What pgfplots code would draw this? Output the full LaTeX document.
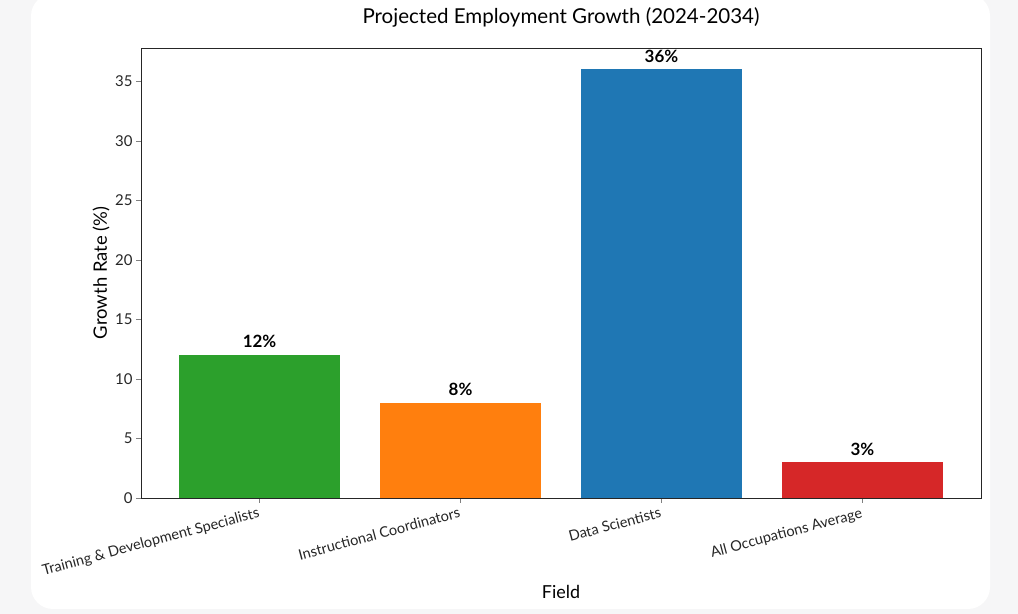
\documentclass[border=0pt]{standalone}
\usepackage{fontspec}
\setmainfont{Lato}
\usepackage{pgfplots}
\pgfplotsset{compat=1.18}
\definecolor{tabgreen}{HTML}{2CA02C}
\definecolor{taborange}{HTML}{FF7F0E}
\definecolor{tabblue}{HTML}{1F77B4}
\definecolor{tabred}{HTML}{D62728}
\definecolor{pagebg}{HTML}{F6F6F7}
\begin{document}
\begin{tikzpicture}[x=1bp,y=1bp]
\path[use as bounding box] (0,0) rectangle (1018,614);
\fill[pagebg] (0,0) rectangle (1018,614);
\begin{scope}
\clip (0,0) rectangle (1018,614);
\fill[white, rounded corners=22bp] (31,5) rectangle (990,620);
\end{scope}
\begin{axis}[
  at={(141bp,116bp)}, anchor=south west,
  width=840bp, height=450bp, scale only axis,
  xmin=-0.59, xmax=3.59, ymin=0, ymax=37.8,
  ybar, bar width=0.8,
  xtick={0,1,2,3},
  xticklabels={Training \& Development Specialists, Instructional Coordinators, Data Scientists, All Occupations Average},
  ytick={0,5,...,35},
  tick align=outside, xtick pos=bottom, ytick pos=left,
  major tick length=5bp,
  axis line style={black!85, line width=0.8pt},
  /pgf/number format/assume math mode=true,
  yticklabel style={font=\fontsize{15}{18}\selectfont, text=black!85},
  xticklabel style={font=\fontsize{14.6}{17}\selectfont, text=black!85, rotate=15, anchor=north east, inner sep=3bp},
  nodes near coords={\textbf{\pgfmathprintnumber{\pgfplotspointmeta}\%}},
  every node near coord/.append style={font=\fontsize{17}{20}\selectfont, text=black, anchor=south, yshift=3.5bp},
]
\addplot[fill=tabgreen, draw=none, bar shift=0pt] coordinates {(0,12)};
\addplot[fill=taborange, draw=none, bar shift=0pt] coordinates {(1,8)};
\addplot[fill=tabblue, draw=none, bar shift=0pt] coordinates {(2,36)};
\addplot[fill=tabred, draw=none, bar shift=0pt] coordinates {(3,3)};
\end{axis}
\node[font=\fontsize{20.6}{24}\selectfont] at (561,597) {Projected Employment Growth (2024-2034)};
\node[font=\fontsize{18}{22}\selectfont] at (561,22) {Field};
\node[font=\fontsize{18.5}{22}\selectfont, rotate=90] at (101,341) {Growth Rate (\%)};
\end{tikzpicture}
\end{document}
